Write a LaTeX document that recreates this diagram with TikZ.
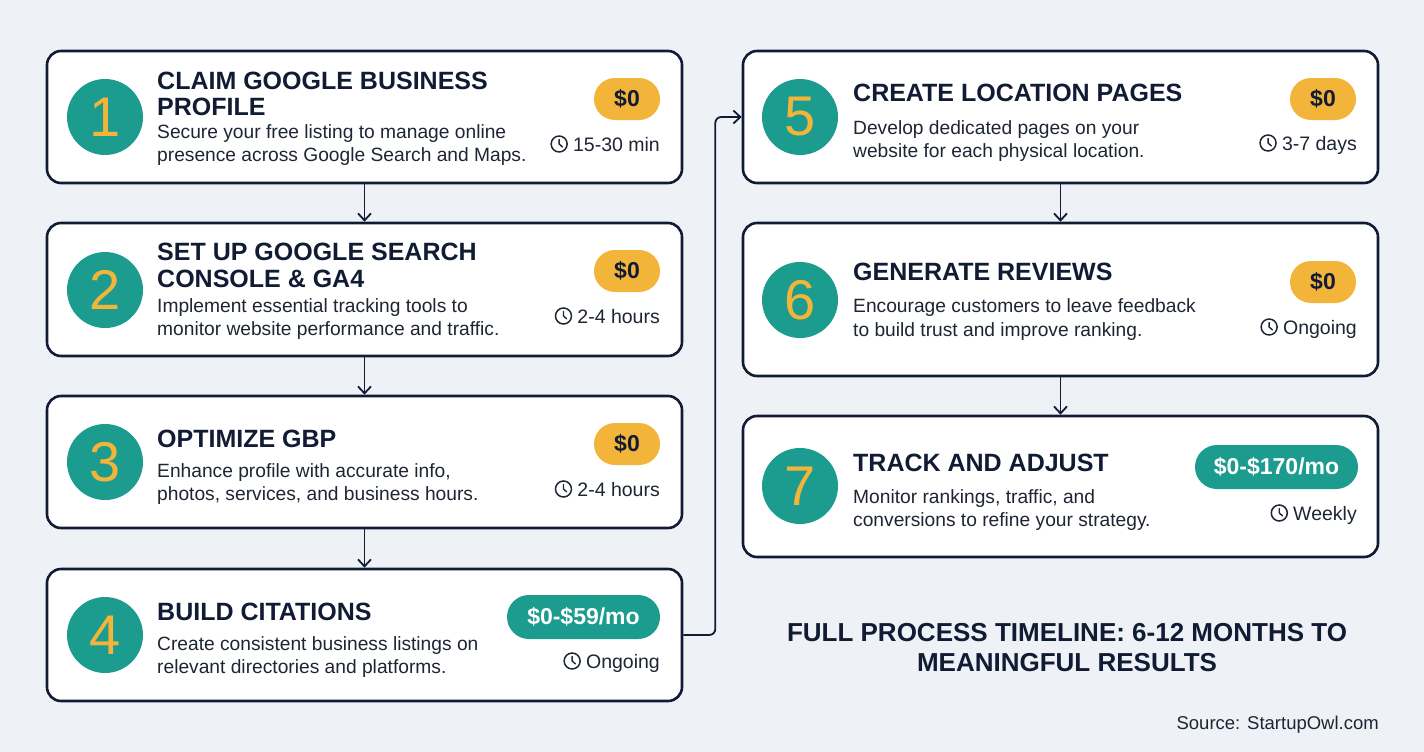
\documentclass[tikz,border=0pt]{standalone}
\usepackage{fontspec}
\setmainfont{Liberation Sans}
\usepackage{tikz}
\usetikzlibrary{arrows.meta,positioning}
\definecolor{Navy}{HTML}{111C34}
\definecolor{Ink}{HTML}{1E2533}
\definecolor{Teal}{HTML}{1C9B8F}
\definecolor{Amber}{HTML}{F3B43A}
\definecolor{Paper}{HTML}{EEF2F7}

\tikzset{
  stepbox/.style={draw=Navy, line width=2.6pt, fill=white, rounded corners=14pt, minimum width=635pt, inner sep=0pt},
  numdisc/.style={circle, fill=Teal, minimum size=76pt, inner sep=0pt, text=Amber, font=\fontsize{56}{56}\selectfont},
  steptitle/.style={anchor=base west, inner sep=0pt, text=Navy, font=\fontsize{25}{28}\selectfont\bfseries},
  stepdesc/.style={anchor=base west, inner sep=0pt, text=Ink, font=\fontsize{19.2}{22}\selectfont},
  steptime/.style={anchor=base east, inner sep=0pt, text height=14pt, text depth=0pt, text=Ink, font=\fontsize{19.5}{22}\selectfont},
  freebadge/.style={fill=Amber, rounded corners=21pt, minimum width=66pt, minimum height=42pt, inner sep=0pt, text=Navy, font=\fontsize{23}{23}\selectfont\bfseries},
  paidbadge/.style={fill=Teal, rounded corners=22pt, minimum height=44pt, inner sep=0pt, text=white, font=\fontsize{23}{23}\selectfont\bfseries},
  clock/.style={circle, draw=Ink, line width=1.5pt, minimum size=16pt, inner sep=0pt,
    path picture={\draw[Ink, line width=1.4pt, line cap=round] (path picture bounding box.center) ++(0pt,4.5pt) -- ++(0pt,-4.5pt) -- ++(3.2pt,-2.8pt);}},
  flow/.style={-{Straight Barb[length=7pt,width=13pt]}, draw=Navy, line width=1.8pt},
}

\begin{document}
\begin{tikzpicture}[x=1pt, y=-1pt]
    % Background
    \fill[Paper] (0,0) rectangle (1424,752);
    \useasboundingbox (0,0) rectangle (1424,752);

    % Step 1 - Google Business Profile
    \node[stepbox, minimum height=132pt] (b1) at (364.5,117) {};
    \node[numdisc] (n1) at (105,117) {1};
    \node[steptitle] (t1a) at (157,89) {CLAIM GOOGLE BUSINESS};
    \node[steptitle] (t1b) at (157,115) {PROFILE};
    \node[stepdesc] (d1a) at (157,138) {Secure your free listing to manage online};
    \node[stepdesc] (d1b) at (157,161) {presence across Google Search and Maps.};
    \node[freebadge] (c1) at (627,99) {\$0};
    \node[steptime] (m1) at (660,151) {15-30 min};
    \node[clock, left=5pt of m1] (k1) {};

    % Step 2 - Search Console
    \node[stepbox, minimum height=133pt] (b2) at (364.5,289.5) {};
    \node[numdisc] (n2) at (105,290) {2};
    \node[steptitle] (t2a) at (157,260) {SET UP GOOGLE SEARCH};
    \node[steptitle] (t2b) at (157,287) {CONSOLE \& GA4};
    \node[stepdesc] (d2a) at (157,312) {Implement essential tracking tools to};
    \node[stepdesc] (d2b) at (157,335) {monitor website performance and traffic.};
    \node[freebadge] (c2) at (627,271) {\$0};
    \node[steptime] (m2) at (660,323) {2-4 hours};
    \node[clock, left=5pt of m2] (k2) {};

    % Step 3 - Optimize GBP
    \node[stepbox, minimum height=132pt] (b3) at (364.5,462) {};
    \node[numdisc] (n3) at (105,462) {3};
    \node[steptitle] (t3a) at (157,447) {OPTIMIZE GBP};
    \node[stepdesc] (d3a) at (157,477) {Enhance profile with accurate info,};
    \node[stepdesc] (d3b) at (157,500) {photos, services, and business hours.};
    \node[freebadge] (c3) at (627,444) {\$0};
    \node[steptime] (m3) at (660,496) {2-4 hours};
    \node[clock, left=5pt of m3] (k3) {};

    % Step 4 - Citations
    \node[stepbox, minimum height=132pt] (b4) at (364.5,635) {};
    \node[numdisc] (n4) at (105,635) {4};
    \node[steptitle] (t4a) at (157,620) {BUILD CITATIONS};
    \node[stepdesc] (d4a) at (157,650) {Create consistent business listings on};
    \node[stepdesc] (d4b) at (157,673) {relevant directories and platforms.};
    \node[paidbadge, minimum width=153pt] (c4) at (583.5,617) {\$0-\$59/mo};
    \node[steptime] (m4) at (660,668) {Ongoing};
    \node[clock, left=5pt of m4] (k4) {};

    % Step 5 - Location pages
    \node[stepbox, minimum height=132pt] (b5) at (1060.5,117) {};
    \node[numdisc] (n5) at (800,117) {5};
    \node[steptitle] (t5a) at (853,101) {CREATE LOCATION PAGES};
    \node[stepdesc] (d5a) at (853,134) {Develop dedicated pages on your};
    \node[stepdesc] (d5b) at (853,157) {website for each physical location.};
    \node[freebadge] (c5) at (1323,99) {\$0};
    \node[steptime] (m5) at (1357,150) {3-7 days};
    \node[clock, left=5pt of m5] (k5) {};

    % Step 6 - Reviews
    \node[stepbox, minimum height=153pt] (b6) at (1060.5,299.5) {};
    \node[numdisc] (n6) at (800,300) {6};
    \node[steptitle] (t6a) at (853,280) {GENERATE REVIEWS};
    \node[stepdesc] (d6a) at (853,312) {Encourage customers to leave feedback};
    \node[stepdesc] (d6b) at (853,336) {to build trust and improve ranking.};
    \node[freebadge] (c6) at (1323,282) {\$0};
    \node[steptime] (m6) at (1357,334) {Ongoing};
    \node[clock, left=5pt of m6] (k6) {};

    % Step 7 - Track and adjust
    \node[stepbox, minimum height=141pt] (b7) at (1060.5,486.5) {};
    \node[numdisc] (n7) at (800,486) {7};
    \node[steptitle] (t7a) at (853,471) {TRACK AND ADJUST};
    \node[stepdesc] (d7a) at (853,503) {Monitor rankings, traffic, and};
    \node[stepdesc] (d7b) at (853,526) {conversions to refine your strategy.};
    \node[paidbadge, minimum width=163pt] (c7) at (1276.5,467) {\$0-\$170/mo};
    \node[steptime] (m7) at (1357,520) {Weekly};
    \node[clock, left=5pt of m7] (k7) {};

    % Arrows between steps
    \draw[flow] (b1) -- (b2);
    \draw[flow] (b2) -- (b3);
    \draw[flow] (b3) -- (b4);
    \draw[flow, rounded corners=6pt] (b4.east) -- ++(32,0) |- (b5.west);
    \draw[flow] (b5) -- (b6);
    \draw[flow] (b6) -- (b7);

    % Timeline note and source
    \node[anchor=base, inner sep=0pt, text=Navy, font=\fontsize{26}{30}\selectfont\bfseries] (note1) at (1067,641) {FULL PROCESS TIMELINE: 6-12 MONTHS TO};
    \node[anchor=base, inner sep=0pt, text=Navy, font=\fontsize{26}{30}\selectfont\bfseries] (note2) at (1067,671) {MEANINGFUL RESULTS};
    \node[anchor=base east, inner sep=0pt, text=Ink, font=\fontsize{18.5}{22}\selectfont] (src) at (1379,729) {Source: StartupOwl.com};
\end{tikzpicture}
\end{document}
